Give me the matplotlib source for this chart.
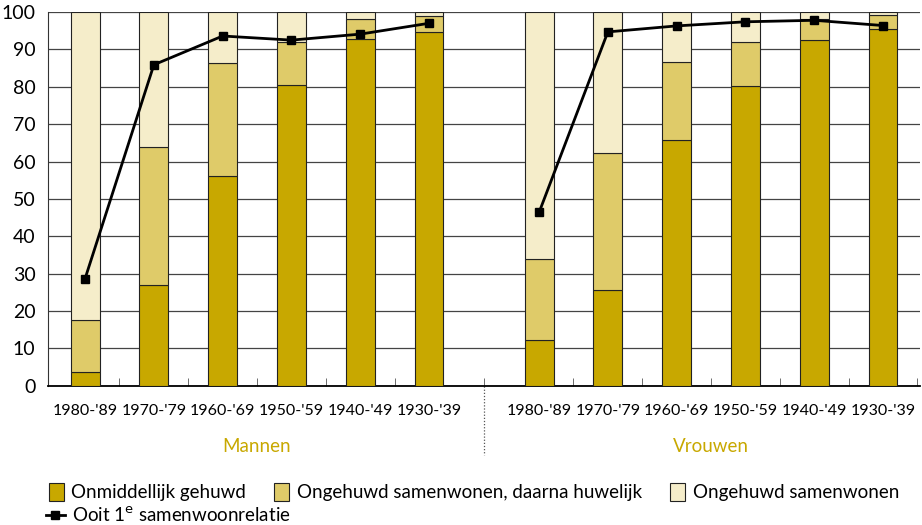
import numpy as np
import matplotlib
matplotlib.use("Agg")
import matplotlib.pyplot as plt
from matplotlib.patches import Patch
from matplotlib.lines import Line2D
import matplotlib.transforms as mtransforms

plt.rcParams['font.family'] = ['Lato', 'DejaVu Sans']

# data
cohorten = ["1980-'89", "1970-'79", "1960-'69", "1950-'59", "1940-'49", "1930-'39"]
groepen = ["Mannen", "Vrouwen"]

man_gehuwd = [3.7, 27.0, 56.1, 80.5, 92.7, 94.6]
man_samen_daarna = [13.9, 37.0, 30.4, 11.6, 5.5, 4.4]
man_samen = [82.4, 36.0, 13.5, 7.9, 1.8, 1.0]
man_ooit = [28.7, 85.9, 93.6, 92.5, 94.1, 97.0]

vrouw_gehuwd = [12.2, 25.7, 65.7, 80.1, 92.5, 95.6]
vrouw_samen_daarna = [21.8, 36.7, 20.9, 11.8, 5.6, 3.6]
vrouw_samen = [66.0, 37.6, 13.4, 8.1, 1.9, 0.8]
vrouw_ooit = [46.4, 94.7, 96.3, 97.4, 97.8, 96.4]

c_dark = '#c8a800'
c_mid = '#dfcb69'
c_light = '#f5edca'
c_goud = '#c8a800'

fig = plt.figure(figsize=(9.22, 5.25), dpi=100)
ax = fig.add_axes([0.052, 0.265, 0.946, 0.712])

n = len(cohorten)
gap = 1.6
x_m = np.arange(n)
x_v = np.arange(n) + n - 1 + gap
bw = 0.42

for xs, g, s1, s2, ooit in [(x_m, man_gehuwd, man_samen_daarna, man_samen, man_ooit),
                            (x_v, vrouw_gehuwd, vrouw_samen_daarna, vrouw_samen, vrouw_ooit)]:
    g = np.array(g); s1 = np.array(s1); s2 = np.array(s2)
    ax.bar(xs, g, bw, color=c_dark, edgecolor='#222222', linewidth=0.8, zorder=3)
    ax.bar(xs, s1, bw, bottom=g, color=c_mid, edgecolor='#222222', linewidth=0.8, zorder=3)
    ax.bar(xs, s2, bw, bottom=g + s1, color=c_light, edgecolor='#222222', linewidth=0.8, zorder=3)
    ax.plot(xs, ooit, color='black', lw=2, marker='s', markersize=6, zorder=5)

ax.set_ylim(0, 100)
ax.set_xlim(-0.54, x_v[-1] + 0.54)
ax.set_yticks(range(0, 101, 10))
ax.yaxis.grid(True, color='#444444', lw=0.9, zorder=0)
ax.set_axisbelow(True)
for s in ['top', 'right']:
    ax.spines[s].set_visible(False)
ax.spines['left'].set_color('#333333')
ax.spines['bottom'].set_linewidth(1.3)

ax.set_xticks(list(x_m) + list(x_v), cohorten + cohorten, fontsize=11.5)
ax.tick_params(axis='x', which='major', length=0, pad=13)
ax.tick_params(axis='y', length=0, pad=9, labelsize=14)

midden = (x_m[-1] + x_v[0]) / 2
minor = list(x_m[:-1] + 0.5) + [midden] + list(x_v + 0.5)
ax.set_xticks(minor, minor=True)
ax.tick_params(axis='x', which='minor', direction='in', length=6, color='#555555')

trans = mtransforms.blended_transform_factory(ax.transData, ax.transAxes)
ax.plot([midden, midden], [0, -0.185], transform=trans, clip_on=False,
        color='#555555', lw=0.9, ls=(0, (1, 1.5)))
ax.text(x_m.mean(), -0.162, groepen[0], transform=trans, ha='center', va='center',
        color=c_goud, fontsize=13.5)
ax.text(x_v.mean(), -0.162, groepen[1], transform=trans, ha='center', va='center',
        color=c_goud, fontsize=13.5)

handles = [Patch(facecolor=c_dark, edgecolor='#222222', lw=0.8, label='Onmiddellijk gehuwd'),
           Patch(facecolor=c_mid, edgecolor='#222222', lw=0.8, label='Ongehuwd samenwonen, daarna huwelijk'),
           Patch(facecolor=c_light, edgecolor='#222222', lw=0.8, label='Ongehuwd samenwonen')]
fig.legend(handles=handles, ncol=3, loc='center left', bbox_to_anchor=(0.053, 0.063),
           frameon=False, fontsize=13.5, handlelength=0.8, handleheight=1.15,
           handletextpad=0.4, columnspacing=1.5, borderaxespad=0, borderpad=0)
lijn = [Line2D([0], [0], color='black', lw=2, marker='s', markersize=6,
               label='Ooit 1$^{\\mathrm{e}}$ samenwoonrelatie')]
fig.legend(handles=lijn, loc='center left', bbox_to_anchor=(0.05, 0.019), frameon=False,
           fontsize=13.5, handlelength=1.0, handletextpad=0.4, borderaxespad=0, borderpad=0)

fig.savefig('out.png', dpi=100)
